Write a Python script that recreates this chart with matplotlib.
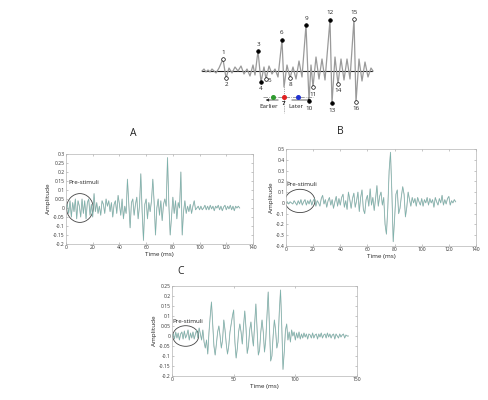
import numpy as np
import matplotlib
matplotlib.use("Agg")
import matplotlib.pyplot as plt
from matplotlib.patches import Ellipse

plt.rcParams['font.family'] = ['Open Sans', 'DejaVu Sans']

# ---- Data ----
# schematic waveform (top): vertex time (px units) and amplitude
wave_t = [0, 2, 4, 6, 8, 10, 12, 14, 17, 21, 24, 27, 30, 33, 36, 39, 42, 45, 48, 51,
          53, 56, 59, 62, 64, 67, 70, 73, 76, 80, 82, 85, 88, 91, 94, 97, 100, 104, 107, 109,
          111, 114, 117, 120, 123, 128, 130, 133, 136, 139, 142, 145, 148, 152, 154, 157, 160, 163, 166, 169, 171]
wave_amp = [0, 2, -1, 1, -1, 2, 0, -2, 3, 12, -7, 3, -2, 4, 0, 5, -3, 2, -5, 6,
            -4, 20, -11, 4, -8, 5, -3, 2, -6, 31, -16, 6, -7, 4, -8, 10, -6, 46, -30, 6,
            -16, 14, -8, 12, -9, 51, -32, 14, -13, 12, -9, 12, -8, 52, -31, 12, -10, 9, -6, 3, 0]
peak_t = [21, 24, 56, 59, 64, 80, 88, 104, 107, 111, 128, 130, 136, 152, 154]
peak_labels = ['1', '2', '3', '4', '5', '6', '8', '9', '10', '11', '12', '13', '14', '15', '16']
peak_filled = [False, False, True, True, False, True, False, True, True, False, True, True, False, False, False]
# reference / earlier / later markers on the shift line
shift_t = [71, 82, 96]
shift_colors = ['#2e9a2e', '#e02020', '#2030d0']

# recordings, 1 ms per sample
dt = 1.0
sig_a = [0.0, 0.02, -0.03, 0.04, -0.05, 0.03, -0.02, 0.05, -0.06, 0.04,
         0.01, -0.05, 0.05, -0.03, 0.04, -0.06, 0.03, 0.05, -0.04, 0.02,
         -0.05, 0.08, -0.02, 0.03, -0.03, 0.01, -0.04, 0.04, 0.02, -0.03,
         0.05, 0.01, 0.04, -0.02, 0.03, -0.05, 0.02, 0.04, -0.03, 0.07,
         0.02, -0.04, 0.05, -0.06, 0.01, -0.03, 0.16, 0.02, -0.11, 0.03,
         0.05, -0.04, 0.02, 0.06, -0.06, 0.01, 0.19, -0.02, -0.18, 0.02,
         0.05, -0.06, 0.03, -0.02, 0.04, 0.16, 0.03, -0.15, 0.0, 0.05,
         -0.04, 0.04, -0.07, 0.02, 0.05, 0.01, 0.28, 0.02, -0.15, -0.05,
         0.06, -0.03, 0.04, -0.06, 0.03, 0.0, 0.2, -0.15, -0.02, 0.04,
         -0.03, 0.01, -0.02, 0.02, -0.03, 0.01, 0.04, -0.01, 0.0, 0.01,
         -0.01, 0.01, -0.01, 0.0, 0.015, -0.01, 0.01, -0.01, 0.015, -0.005,
         0.01, -0.015, 0.01, 0.0, 0.015, -0.01, 0.01, -0.015, 0.005, 0.015,
         -0.01, 0.01, -0.005, 0.015, -0.01, 0.01, -0.015, 0.01, 0.0, 0.01, 0.0]
sig_b = [0.0, 0.01, -0.01, 0.01, 0.0, -0.01, 0.02, 0.0, -0.02, 0.02,
         -0.01, 0.03, -0.02, 0.01, 0.03, -0.02, 0.02, -0.01, 0.03, -0.02,
         0.02, 0.04, -0.03, 0.02, 0.0, -0.03, 0.04, 0.07, -0.01, 0.03,
         -0.04, 0.02, 0.05, -0.02, 0.03, -0.05, 0.01, 0.06, -0.03, 0.04,
         -0.02, 0.05, 0.08, -0.04, 0.02, -0.06, 0.1, 0.03, -0.05, 0.04,
         0.09, -0.04, 0.02, 0.1, -0.08, 0.05, 0.12, -0.06, -0.1, 0.03,
         0.07, -0.03, 0.13, -0.02, 0.05, -0.07, 0.04, 0.16, -0.03, 0.06,
         0.1, -0.02, 0.05, -0.2, -0.29, -0.05, 0.3, 0.47, 0.1, -0.36,
         -0.15, 0.08, 0.12, -0.1, -0.05, 0.06, 0.15, 0.08, -0.13, -0.04,
         0.1, 0.03, -0.03, 0.05, 0.0, 0.04, -0.03, 0.05, 0.01, -0.02,
         0.04, -0.03, 0.03, 0.0, 0.05, -0.02, 0.04, 0.0, 0.03, -0.04,
         0.05, 0.01, -0.02, 0.04, 0.0, 0.07, -0.02, 0.03, -0.01, 0.04,
         0.06, -0.02, 0.02, 0.0, 0.03, 0.01]
sig_c = [0.0, 0.01, -0.015, 0.02, -0.01, 0.015, -0.02, 0.01, 0.02, -0.015,
         0.025, -0.01, 0.005, 0.03, -0.02, 0.015, -0.01, 0.02, -0.015, 0.01,
         0.03, -0.01, 0.04, 0.01, -0.02, 0.03, -0.03, -0.06, -0.02, -0.09,
         0.02, 0.1, 0.17, 0.06, -0.05, -0.095, -0.04, 0.02, 0.05, 0.0,
         -0.06, -0.02, 0.08, 0.03, -0.04, -0.09, -0.05, 0.02, 0.06, 0.1,
         0.13, -0.03, -0.11, -0.06, 0.02, 0.06, 0.02, -0.04, 0.05, 0.125,
         0.04, -0.087, -0.05, 0.03, 0.07, 0.0, -0.05, 0.06, 0.16, 0.03,
         -0.095, -0.07, 0.02, 0.08, 0.02, -0.08, -0.02, 0.1, 0.22, 0.04,
         -0.125, -0.1, 0.0, 0.08, 0.03, -0.06, -0.03, 0.12, 0.23, 0.05,
         -0.167, -0.08, 0.03, 0.06, -0.02, 0.02, -0.03, 0.03, 0.0, 0.02,
         -0.02, 0.015, -0.01, 0.02, -0.015, 0.01, -0.01, 0.015, -0.005, 0.01,
         -0.015, 0.01, 0.005, -0.01, 0.015, -0.01, 0.005, 0.01, -0.015, 0.01,
         -0.005, 0.015, -0.01, 0.005, 0.01, -0.01, 0.015, -0.005, 0.01, -0.01,
         0.005, 0.01, -0.015, 0.01, 0.0, -0.01, 0.01, -0.005, 0.005, 0.01,
         -0.01, 0.005, 0.0, 0.0]

W, H = 488, 400
fig = plt.figure(figsize=(W / 100, H / 100), dpi=100)


def px_axes(left, top, right, bottom):
    return fig.add_axes([left / W, 1 - bottom / H, (right - left) / W, (bottom - top) / H])


def fmt(v):
    v = round(v, 3)
    if abs(v) < 1e-9:
        v = 0.0
    return f"{v:g}"


# ---- Top schematic ----
ax0 = px_axes(195, 5, 375, 120)
ax0.set_xlim(-7, 173)
ax0.set_ylim(-49, 66)
ax0.axis('off')
ax0.plot([0, 170], [0, 0], color='#222222', lw=0.8, zorder=1)
ax0.plot(wave_t, wave_amp, color='#9a9a9a', lw=0.9, zorder=2, solid_joinstyle='round')
amp_at = dict(zip(wave_t, wave_amp))
for t, lab, filled in zip(peak_t, peak_labels, peak_filled):
    a = amp_at[t]
    ax0.plot(t, a, 'o', ms=2.6, mec='black', mew=0.5,
             mfc='black' if filled else 'white', zorder=4)
    dy = 7 if a > 0 else -7
    dx = 3 if lab == '5' else 0
    if lab == '5':
        dy = -1
    ax0.text(t + dx, a + dy, lab, fontsize=4.5, ha='center', va='center', color='#222222')

line_amp = -26
ax0.plot([61, 111], [line_amp, line_amp], color='#777777', lw=0.5, ls='-.', zorder=2)
ax0.plot([82, 82], [-16, -42], color='#555555', lw=0.5, ls=':', zorder=2)
for t, c in zip(shift_t, shift_colors):
    ax0.plot(t, line_amp, 'o', ms=2.6, color=c, zorder=4)
ax0.annotate('', xy=(61, -29), xytext=(79, -29),
             arrowprops=dict(arrowstyle='-|>', lw=0.5, color='#222222', mutation_scale=4))
ax0.annotate('', xy=(112, -29), xytext=(87, -29),
             arrowprops=dict(arrowstyle='-|>', lw=0.5, color='#222222', mutation_scale=4))
ax0.text(67, -35, 'Earlier', fontsize=4.5, ha='center', va='center', color='#222222')
ax0.text(94, -35, 'Later', fontsize=4.5, ha='center', va='center', color='#222222')
ax0.text(82, -32.5, '7', fontsize=4.5, ha='center', va='center', color='#222222', fontweight='bold')


# ---- Signal panels ----
def signal_panel(box, sig, xlim, xticks, ylim, ystep, title, title_xy, ell, txt):
    ax = px_axes(*box)
    t = np.arange(len(sig)) * dt
    ax.plot(t, sig, color='#666666', lw=0.7, alpha=0.35)
    ax.plot(t, sig, color='#79b2ab', lw=0.45)
    ax.set_xlim(*xlim)
    ax.set_ylim(*ylim)
    ax.set_xticks(xticks)
    ax.set_xticklabels([fmt(v) for v in xticks])
    yt = np.arange(ylim[0], ylim[1] + ystep / 2, ystep)
    ax.set_yticks(yt)
    ax.set_yticklabels([fmt(v) for v in yt])
    ax.tick_params(direction='in', length=1.5, width=0.4, labelsize=3.6, pad=1,
                   top=True, right=True, color='#999999', labelcolor='#333333')
    for s in ax.spines.values():
        s.set_color('#b5b5b5')
        s.set_linewidth(0.5)
    ax.set_xlabel('Time (ms)', fontsize=4.6, labelpad=1.5, color='#222222')
    ax.set_ylabel('Amplitude', fontsize=4.6, labelpad=1.5, color='#222222')
    ax.add_patch(Ellipse(ell[:2], ell[2], ell[3], fill=False, ec='#444444', lw=0.6))
    ax.text(txt[0], txt[1], 'Pre-stimuli', fontsize=4.4, ha='center', va='center', color='#222222')
    fig.text(title_xy[0] / W, 1 - title_xy[1] / H, title, fontsize=7.5,
             ha='center', va='center', color='#222222')
    return ax


signal_panel((66, 154, 253, 244), sig_a, (0, 140), [0, 20, 40, 60, 80, 100, 120, 140],
             (-0.2, 0.3), 0.05, 'A', (133, 133), (10.4, 0.0, 20, 0.16), (13.4, 0.139))
signal_panel((286, 149, 476, 246), sig_b, (0, 140), [0, 20, 40, 60, 80, 100, 120, 140],
             (-0.4, 0.5), 0.1, 'B', (340, 132), (10.3, 0.018, 22, 0.216), (11.6, 0.166))
signal_panel((172, 286, 357, 376), sig_c, (0, 150), [0, 50, 100, 150],
             (-0.2, 0.25), 0.05, 'C', (181, 271), (11.1, 0.0, 21, 0.103), (12.7, 0.071))

fig.savefig('out.png', dpi=100)
